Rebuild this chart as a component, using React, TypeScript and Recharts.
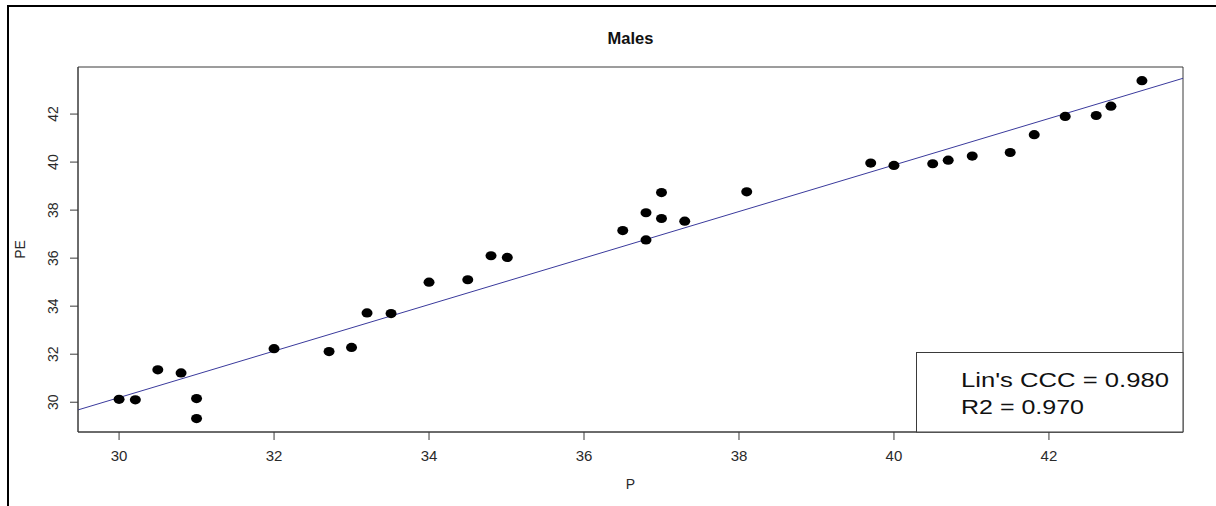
import React from "react"
import {
  ReferenceArea,
  ReferenceLine,
  Scatter,
  ScatterChart,
  XAxis,
  YAxis,
} from "recharts"

const pValues = [
  30.0, 30.21, 30.5, 30.8, 31.0, 31.0, 32.0, 32.71, 33.0, 33.2, 33.51,
  34.0, 34.5, 34.8, 35.01, 36.5, 36.8, 36.8, 37.0, 37.0, 37.3, 38.1,
  39.7, 40.0, 40.5, 40.7, 41.01, 41.5, 41.81, 42.21, 42.61, 42.8, 43.2,
]
const peValues = [
  30.12, 30.1, 31.35, 31.22, 30.15, 29.32, 32.23, 32.11, 32.28, 33.72, 33.69,
  35.0, 35.1, 36.1, 36.03, 37.15, 37.89, 36.76, 38.73, 37.65, 37.54, 38.76,
  39.96, 39.86, 39.93, 40.08, 40.25, 40.4, 41.14, 41.9, 41.94, 42.33, 43.39,
]

// fitted line, ends at the plot edges
const fitStart = { x: 29.47, y: 29.68 }
const fitEnd = { x: 43.73, y: 43.49 }

const xDomain = [29.47, 43.73]
const yDomain = [28.76, 43.96]
const xTicks = [30, 32, 34, 36, 38, 40, 42]
const yTicks = [30, 32, 34, 36, 38, 40, 42]

const legendLines = ["Lin's CCC = 0.980", "R2 = 0.970"]

const points = pValues.map((p, i) => ({ x: p, y: peValues[i] }))

const FONT = "'Liberation Sans', Arial, Helvetica, sans-serif"
const AXIS = "#3a3a3a"

function XTick({ x, y, payload }: any) {
  return (
    <text x={x} y={y} dy="0.71em" textAnchor="middle" fontSize={15} fill="#2a2a2a" fontFamily={FONT}>
      {payload.value}
    </text>
  )
}

function YTick({ x, y, payload }: any) {
  return (
    <text
      x={x}
      y={y}
      transform={`rotate(-90, ${x}, ${y})`}
      textAnchor="middle"
      fontSize={14}
      fill="#2a2a2a"
      fontFamily={FONT}
    >
      {payload.value}
    </text>
  )
}

function Dot({ cx, cy }: any) {
  return <ellipse cx={cx} cy={cy} rx={5.5} ry={4.6} fill="#000" />
}

export default function App() {
  return (
    <div style={{ position: "absolute", left: 0, top: 0, width: 1216, height: 506, background: "#fff", overflow: "hidden" }}>
      <div
        style={{
          position: "absolute",
          left: 7,
          top: 5,
          width: 1209,
          height: 501,
          borderLeft: "2px solid #000",
          borderTop: "2px solid #000",
          boxSizing: "border-box",
        }}
      />
      <div style={{ position: "absolute", left: 0, top: 0 }}>
        <ScatterChart width={1216} height={506} margin={{ top: 67, right: 33, left: 18, bottom: 24 }}>
          <XAxis
            type="number"
            dataKey="x"
            domain={xDomain}
            ticks={xTicks}
            allowDataOverflow
            height={50}
            tickSize={8}
            tickMargin={10}
            tick={<XTick />}
            axisLine={{ stroke: AXIS }}
            tickLine={{ stroke: AXIS }}
          />
          <YAxis
            type="number"
            dataKey="y"
            domain={yDomain}
            ticks={yTicks}
            allowDataOverflow
            width={60}
            tickSize={8}
            tickMargin={12}
            tick={<YTick />}
            axisLine={{ stroke: AXIS }}
            tickLine={{ stroke: AXIS }}
          />
          <ReferenceArea
            x1={xDomain[0]}
            x2={xDomain[1]}
            y1={yDomain[0]}
            y2={yDomain[1]}
            fill="none"
            stroke={AXIS}
            strokeWidth={1}
            ifOverflow="visible"
          />
          <ReferenceLine
            segment={[fitStart, fitEnd]}
            stroke="#3a3a9c"
            strokeWidth={1}
            ifOverflow="visible"
          />
          <Scatter data={points} shape={<Dot />} isAnimationActive={false} />
        </ScatterChart>
      </div>
      <svg
        width={1216}
        height={506}
        style={{ position: "absolute", left: 0, top: 0, pointerEvents: "none" }}
        fontFamily={FONT}
      >
        <text x={630.5} y={43.5} textAnchor="middle" fontSize={16.5} fontWeight="bold" fill="#111">
          Males
        </text>
        <text x={630.5} y={489} textAnchor="middle" fontSize={14} fill="#2a2a2a">
          P
        </text>
        <text x={25} y={249.5} transform="rotate(-90, 25, 249.5)" textAnchor="middle" fontSize={14} fill="#2a2a2a">
          PE
        </text>
        <rect x={916.5} y={352.5} width={266.5} height={79.5} fill="#fff" stroke={AXIS} strokeWidth={1} />
        <text x={961} y={387.3} fontSize={19.5} fill="#111" textLength={208} lengthAdjust="spacingAndGlyphs">
          {legendLines[0]}
        </text>
        <text x={961} y={414} fontSize={19.5} fill="#111" textLength={123} lengthAdjust="spacingAndGlyphs">
          {legendLines[1]}
        </text>
      </svg>
    </div>
  )
}
